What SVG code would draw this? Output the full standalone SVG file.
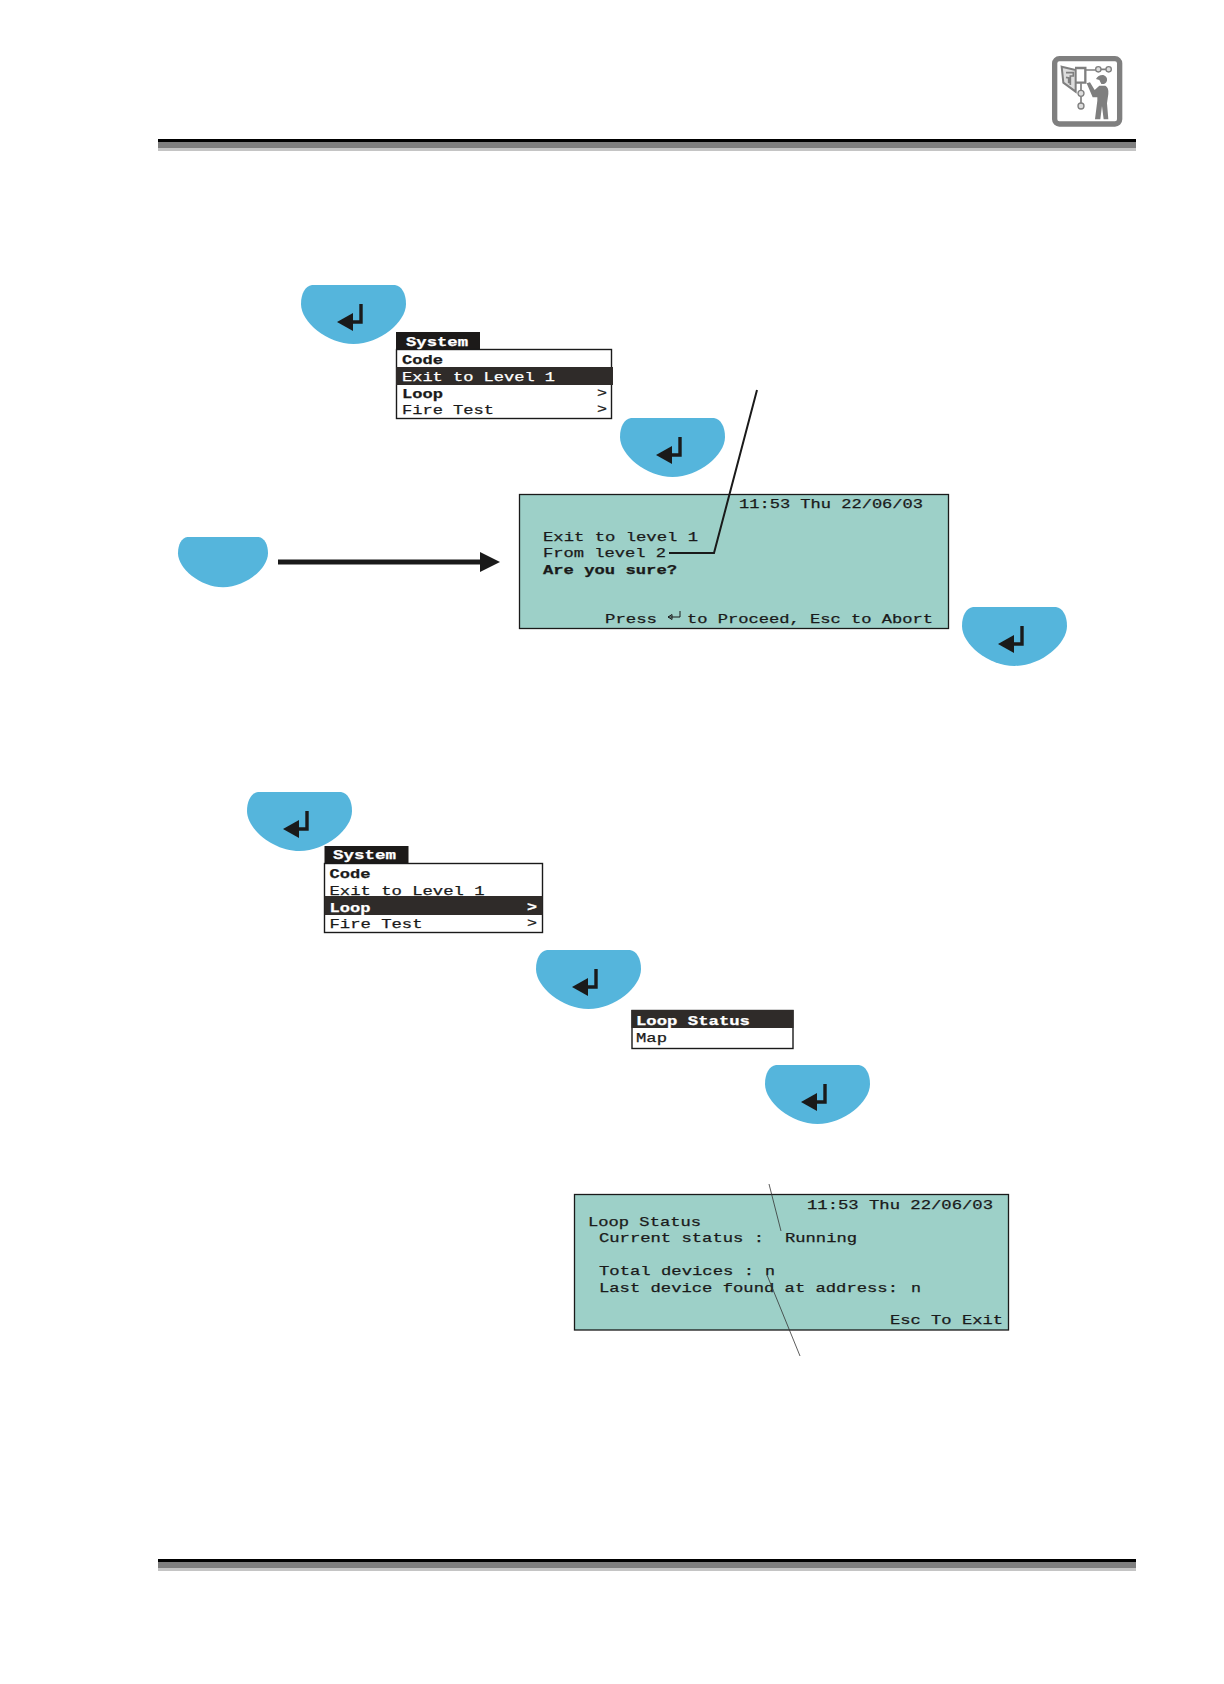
<svg xmlns="http://www.w3.org/2000/svg" width="1224" height="1684" viewBox="0 0 1224 1684">
<style>
text{font-family:"Liberation Mono","DejaVu Sans Mono",monospace;font-size:13px;fill:#1a1a1a;stroke:#1a1a1a;stroke-width:.25px}
.b{font-weight:bold}
.w{fill:#fff;stroke:#fff}
.lcd{fill:#9dd0c8;stroke:#1a1a1a;stroke-width:1.3}
.box{fill:#fff;stroke:#1a1a1a;stroke-width:1.4}
.dark{fill:#2f2b29}
.title{fill:#1c1a19}
.btn{fill:#55b5dc}
.ig{fill:#7f7f7f}
.il{fill:none;stroke:#7f7f7f}
</style>
<defs>
<path id="shape" class="btn" d="M11,0H94C101,1 105,9 105,19C105,37 79,59 52.500,59C26,59 0,37 0,19C0,9 4,1 11,0Z"/>
<g id="enter"><path d="M60,19V37H48" fill="none" stroke="#1a1a1a" stroke-width="3.400"/><path d="M36,37L52,28V46Z" fill="#1a1a1a"/></g>
<marker id="head" markerUnits="userSpaceOnUse" markerWidth="22" markerHeight="22" refX="0" refY="10" orient="auto"><path d="M0,0L20,10L0,20Z" fill="#1a1a1a"/></marker>
</defs>

<g id="header-rule"><rect x="158" y="139" width="978" height="3.5" fill="#000"/><rect x="158" y="142.500" width="978" height="5.500" fill="#7f7f7f"/><rect x="158" y="148" width="978" height="3" fill="#c4c4c4"/></g>
<g id="footer-rule"><rect x="158" y="1559" width="978" height="3.500" fill="#000"/><rect x="158" y="1562.500" width="978" height="5.500" fill="#7f7f7f"/><rect x="158" y="1568" width="978" height="3" fill="#c4c4c4"/></g>

<g id="icon" transform="translate(1030 40) scale(.3333)">
<rect x="74" y="56" width="195" height="196" rx="14" fill="#fff" stroke="#7f7f7f" stroke-width="16"/>
<path class="il" stroke-width="7" d="M135,84H166V128H135"/>
<path d="M95,80L137,90V155L100,128Z" fill="#ddd" stroke="#7f7f7f" stroke-width="6"/>
<path class="il" stroke-width="5" d="M108,98H130V108H121V135M108,112L116,114V130"/>
<path class="il" stroke-width="5" d="M166,90H197M213,88H228M153,130V150M153,170V190"/>
<g fill="#ddd" stroke="#7f7f7f" stroke-width="4"><circle cx="205" cy="88" r="8"/><circle cx="236" cy="88" r="8"/><circle cx="153" cy="160" r="9"/><circle cx="153" cy="198" r="9"/></g>
<path class="ig" d="M198,117Q205,104 220,105Q233,110 231,122Q227,134 214,132L208,120ZM170,130L180,127L194,150L208,137H226Q237,143 235,162L231,190L235,238H221L216,198L211,238H195L202,182V172L188,172Z"/>
</g>

<g id="button-1" transform="translate(301 285)"><use href="#shape"/><use href="#enter"/></g>
<g id="menu-1">
<rect class="title" x="396" y="332" width="84" height="17"/>
<rect class="box" x="396.500" y="349.500" width="215" height="69"/>
<rect class="dark" x="396" y="367" width="217" height="18"/>
<text class="w b" x="406" y="346" textLength="62" lengthAdjust="spacingAndGlyphs">System</text>
<text class="b" x="402" y="364" textLength="41" lengthAdjust="spacingAndGlyphs">Code</text>
<text class="w" x="402" y="381" textLength="153" lengthAdjust="spacingAndGlyphs">Exit to Level 1</text>
<text class="b" x="402" y="398" textLength="41" lengthAdjust="spacingAndGlyphs">Loop</text>
<text x="597" y="397" textLength="10" lengthAdjust="spacingAndGlyphs">&gt;</text>
<text x="402" y="414" textLength="92" lengthAdjust="spacingAndGlyphs">Fire Test</text>
<text x="597" y="413" textLength="10" lengthAdjust="spacingAndGlyphs">&gt;</text>
</g>
<g id="button-2" transform="translate(620 418)"><use href="#shape"/><use href="#enter"/></g>
<g id="button-3" transform="translate(178 537) scale(.857 .85)"><use href="#shape"/></g>
<g id="lcd-1">
<rect class="lcd" x="519.500" y="494.500" width="429" height="134"/>
<text x="739" y="508" textLength="184" lengthAdjust="spacingAndGlyphs">11:53 Thu 22/06/03</text>
<text x="543" y="541" textLength="155" lengthAdjust="spacingAndGlyphs">Exit to level 1</text>
<text x="543" y="557" textLength="123" lengthAdjust="spacingAndGlyphs">From level 2</text>
<text class="b" x="543" y="574" textLength="134" lengthAdjust="spacingAndGlyphs">Are you sure?</text>
<text x="605" y="623" textLength="52" lengthAdjust="spacingAndGlyphs">Press</text>
<path d="M668,617H680V611M668,617l4,-2.500v5z" fill="none" stroke="#1a1a1a" stroke-width="1"/>
<text x="687" y="623" textLength="246" lengthAdjust="spacingAndGlyphs">to Proceed, Esc to Abort</text>
</g>
<g id="button-4" transform="translate(962 607)"><use href="#shape"/><use href="#enter"/></g>
<g id="button-5" transform="translate(247 792)"><use href="#shape"/><use href="#enter"/></g>
<g id="menu-2">
<rect class="title" x="324.500" y="846" width="84" height="17"/>
<rect class="box" x="324.500" y="863.500" width="218" height="69"/>
<rect class="dark" x="324.500" y="896" width="218" height="19"/>
<text class="w b" x="333" y="859" textLength="63" lengthAdjust="spacingAndGlyphs">System</text>
<text class="b" x="329.500" y="878" textLength="41" lengthAdjust="spacingAndGlyphs">Code</text>
<text x="329.500" y="895" textLength="155" lengthAdjust="spacingAndGlyphs">Exit to Level 1</text>
<text class="w b" x="329.500" y="912" textLength="41" lengthAdjust="spacingAndGlyphs">Loop</text>
<text class="w b" x="527" y="911" textLength="10" lengthAdjust="spacingAndGlyphs">&gt;</text>
<text x="329.500" y="928" textLength="93" lengthAdjust="spacingAndGlyphs">Fire Test</text>
<text x="527" y="927" textLength="10" lengthAdjust="spacingAndGlyphs">&gt;</text>
</g>
<g id="button-6" transform="translate(536 950)"><use href="#shape"/><use href="#enter"/></g>
<g id="menu-3">
<rect class="box" x="632" y="1010.500" width="161" height="38"/>
<rect class="dark" x="631.500" y="1010" width="162" height="18"/>
<text class="w b" x="636" y="1025" textLength="114" lengthAdjust="spacingAndGlyphs">Loop Status</text>
<text x="636" y="1042" textLength="31" lengthAdjust="spacingAndGlyphs">Map</text>
</g>
<g id="button-7" transform="translate(765 1065)"><use href="#shape"/><use href="#enter"/></g>
<g id="lcd-2">
<rect class="lcd" x="574.500" y="1194.500" width="434" height="135.500"/>
<text x="807" y="1209" textLength="186" lengthAdjust="spacingAndGlyphs">11:53 Thu 22/06/03</text>
<text x="588" y="1226" textLength="113" lengthAdjust="spacingAndGlyphs">Loop Status</text>
<text x="599" y="1242" textLength="165" lengthAdjust="spacingAndGlyphs">Current status :</text>
<text x="785" y="1242" textLength="72" lengthAdjust="spacingAndGlyphs">Running</text>
<text x="599" y="1275" textLength="155" lengthAdjust="spacingAndGlyphs">Total devices :</text>
<text x="765" y="1275" textLength="10" lengthAdjust="spacingAndGlyphs">n</text>
<text x="599" y="1292" textLength="299" lengthAdjust="spacingAndGlyphs">Last device found at address:</text>
<text x="911" y="1292" textLength="10" lengthAdjust="spacingAndGlyphs">n</text>
<text x="890" y="1324" textLength="113" lengthAdjust="spacingAndGlyphs">Esc To Exit</text>
</g>

<g id="connectors">
<path d="M757,390L714,553H669" fill="none" stroke="#1a1a1a" stroke-width="2"/>
<line x1="278" y1="562" x2="480" y2="562" stroke="#1a1a1a" stroke-width="5" marker-end="url(#head)"/>
<line x1="769" y1="1184" x2="781" y2="1231" stroke="#333" stroke-width=".8"/>
<line x1="767" y1="1275" x2="800" y2="1356" stroke="#333" stroke-width=".8"/>
</g>
</svg>
